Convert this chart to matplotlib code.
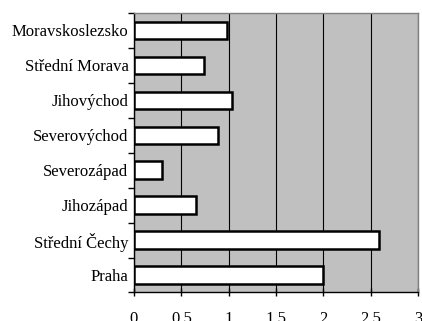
import matplotlib.pyplot as plt
import numpy as np

regions = ['Praha', 'Střední Čechy', 'Jihozápad', 'Severozápad',
           'Severovýchod', 'Jihovýchod', 'Střední Morava', 'Moravskoslezsko']
values = [2.0, 2.59, 0.65, 0.30, 0.89, 1.04, 0.74, 0.98]
xticks = [0, 0.5, 1, 1.5, 2, 2.5, 3]
xlabels = ['0', '0.5', '1', '1.5', '2', '2.5', '3']

plt.rcParams['font.family'] = ['Liberation Serif', 'DejaVu Serif']

fig = plt.figure(figsize=(4.22, 3.21), dpi=100)
ax = fig.add_axes([0.3175, 0.0888, 0.6730, 0.8707])
ax.set_facecolor('#c0c0c0')

y = np.arange(len(regions))
ax.barh(y, values, height=0.5, color='white', edgecolor='black', linewidth=1.8, zorder=3)

ax.set_xlim(0, 3)
ax.set_ylim(-0.5, len(regions) - 0.5)
ax.set_xticks(xticks)
ax.set_xticklabels(xlabels, fontsize=12)
ax.set_yticks(y)
ax.set_yticklabels(regions, fontsize=12)
ax.set_yticks(np.arange(len(regions) + 1) - 0.5, minor=True)

ax.tick_params(axis='y', which='major', length=0, pad=4)
ax.tick_params(axis='y', which='minor', length=4, direction='out', width=1)
ax.tick_params(axis='x', which='major', length=6, direction='inout', width=1, pad=10)

ax.grid(axis='x', color='black', linewidth=0.8, zorder=1)
ax.set_axisbelow(True)

for s in ['top', 'right']:
    ax.spines[s].set_color('#808080')
    ax.spines[s].set_linewidth(1)
for s in ['left', 'bottom']:
    ax.spines[s].set_color('black')
    ax.spines[s].set_linewidth(1)

fig.savefig('out.png', dpi=100)
